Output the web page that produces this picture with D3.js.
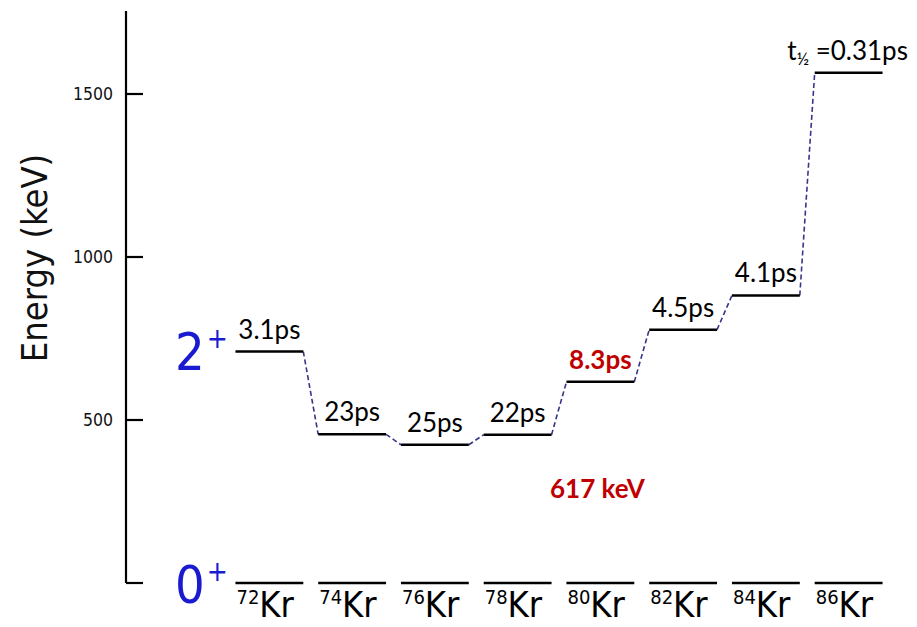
<!DOCTYPE html>
<html>
<head>
<meta charset="utf-8">
<script src="https://cdn.jsdelivr.net/npm/d3@7"></script>
<style>
  html, body { margin: 0; padding: 0; background: #fff; }
  svg { display: block; }
  .din { font-family: "DejaVu Sans Condensed", "Liberation Sans Narrow", "Roboto", sans-serif; }
  .cal { font-family: "Lato", "Open Sans", sans-serif; }
</style>
</head>
<body>
<svg id="chart" width="917" height="627"></svg>
<script>
// Krypton isotopes and their first 2+ excitation energies (keV)
const isotopes = ["72", "74", "76", "78", "80", "82", "84", "86"];
const energies = [710, 456, 424, 455, 617, 777, 882, 1565];
const halfLives = ["3.1ps", "23ps", "25ps", "22ps", "8.3ps", "4.5ps", "4.1ps", "0.31ps"];
const highlighted = "80";
const yTicks = [0, 500, 1000, 1500];

const svg = d3.select("#chart");

const y = d3.scaleLinear().domain([0, 1500]).range([583, 94]);
const x = d3.scaleBand().domain(isotopes).range([228, 890])
  .paddingInner(0.18).paddingOuter(0.09);

// vertical energy axis
const axisX = 126;
svg.append("line")
  .attr("x1", axisX).attr("x2", axisX)
  .attr("y1", 11).attr("y2", y(0))
  .attr("stroke", "#000").attr("stroke-width", 2.2);

const tickG = svg.append("g");
tickG.selectAll("line").data(yTicks).join("line")
  .attr("x1", axisX).attr("x2", 143)
  .attr("y1", d => y(d)).attr("y2", d => y(d))
  .attr("stroke", "#000").attr("stroke-width", 2.2);
tickG.selectAll("text").data(yTicks.filter(d => d > 0)).join("text")
  .attr("class", "din")
  .attr("x", 113).attr("y", d => y(d))
  .attr("dy", "0.36em")
  .attr("text-anchor", "end")
  .attr("font-size", 17.5)
  .attr("fill", "#111")
  .text(d => d);

svg.append("text")
  .attr("class", "din")
  .attr("transform", `translate(47,${258}) rotate(-90)`)
  .attr("text-anchor", "middle")
  .attr("font-size", 36)
  .attr("font-weight", 300)
  .attr("fill", "#111")
  .text("Energy (keV)");

// spin-parity labels
function spinLabel(digit, yBase) {
  const t = svg.append("text").attr("class", "din")
    .attr("x", 175).attr("y", yBase)
    .attr("fill", "#1a1ad0")
    .attr("font-size", 52);
  t.append("tspan").text(digit);
  t.append("tspan").attr("font-size", 28).attr("dy", -22).attr("dx", 2).text("+");
}
spinLabel("2", 370);
spinLabel("0", 603);

// ground-state levels
svg.append("g").selectAll("line").data(isotopes).join("line")
  .attr("x1", d => x(d)).attr("x2", d => x(d) + x.bandwidth())
  .attr("y1", y(0)).attr("y2", y(0))
  .attr("stroke", "#000").attr("stroke-width", 2.5);

// isotope names under the ground levels
const names = svg.append("g").selectAll("text").data(isotopes).join("text")
  .attr("class", "din")
  .attr("x", d => x(d) + 1)
  .attr("y", 617)
  .attr("fill", "#000");
names.append("tspan").attr("font-size", 20).attr("dy", -13).text(d => d);
names.append("tspan").attr("font-size", 36).attr("dy", 13).text("Kr");

// dashed connectors between neighbouring 2+ levels
const pairs = d3.pairs(isotopes.map((iso, i) => ({ iso, e: energies[i] })));
svg.append("g").selectAll("line").data(pairs).join("line")
  .attr("x1", d => x(d[0].iso) + x.bandwidth())
  .attr("y1", d => y(d[0].e))
  .attr("x2", d => x(d[1].iso))
  .attr("y2", d => y(d[1].e))
  .attr("stroke", "#35358a")
  .attr("stroke-width", 1.6)
  .attr("stroke-dasharray", "5,3");

// 2+ levels
svg.append("g").selectAll("line").data(isotopes).join("line")
  .attr("x1", d => x(d)).attr("x2", d => x(d) + x.bandwidth())
  .attr("y1", (d, i) => y(energies[i])).attr("y2", (d, i) => y(energies[i]))
  .attr("stroke", "#000").attr("stroke-width", 2.5);

// half-life labels
const hl = svg.append("g").selectAll("text").data(isotopes).join("text")
  .attr("class", "cal")
  .attr("x", d => x(d) + x.bandwidth() / 2)
  .attr("y", (d, i) => y(energies[i]) - 13)
  .attr("text-anchor", "middle")
  .attr("font-size", 26)
  .attr("font-weight", d => d === highlighted ? 700 : 400)
  .attr("fill", d => d === highlighted ? "#c00000" : "#000");
hl.each(function (d, i) {
  const t = d3.select(this);
  if (i === isotopes.length - 1) {
    t.attr("x", x(d) + x.bandwidth() / 2 - 1);
    t.append("tspan").text("t");
    t.append("tspan").attr("font-size", 17).attr("dy", 5).text("½");
    t.append("tspan").attr("dy", -5).text(" =" + halfLives[i]);
  } else {
    t.text(halfLives[i]);
  }
});

// energy of the highlighted level
const hi = isotopes.indexOf(highlighted);
svg.append("text")
  .attr("class", "cal")
  .attr("x", x(highlighted) + x.bandwidth() / 2 - 3)
  .attr("y", 498)
  .attr("text-anchor", "middle")
  .attr("font-size", 26)
  .attr("font-weight", 700)
  .attr("fill", "#c00000")
  .text(energies[hi] + " keV");
</script>
</body>
</html>
